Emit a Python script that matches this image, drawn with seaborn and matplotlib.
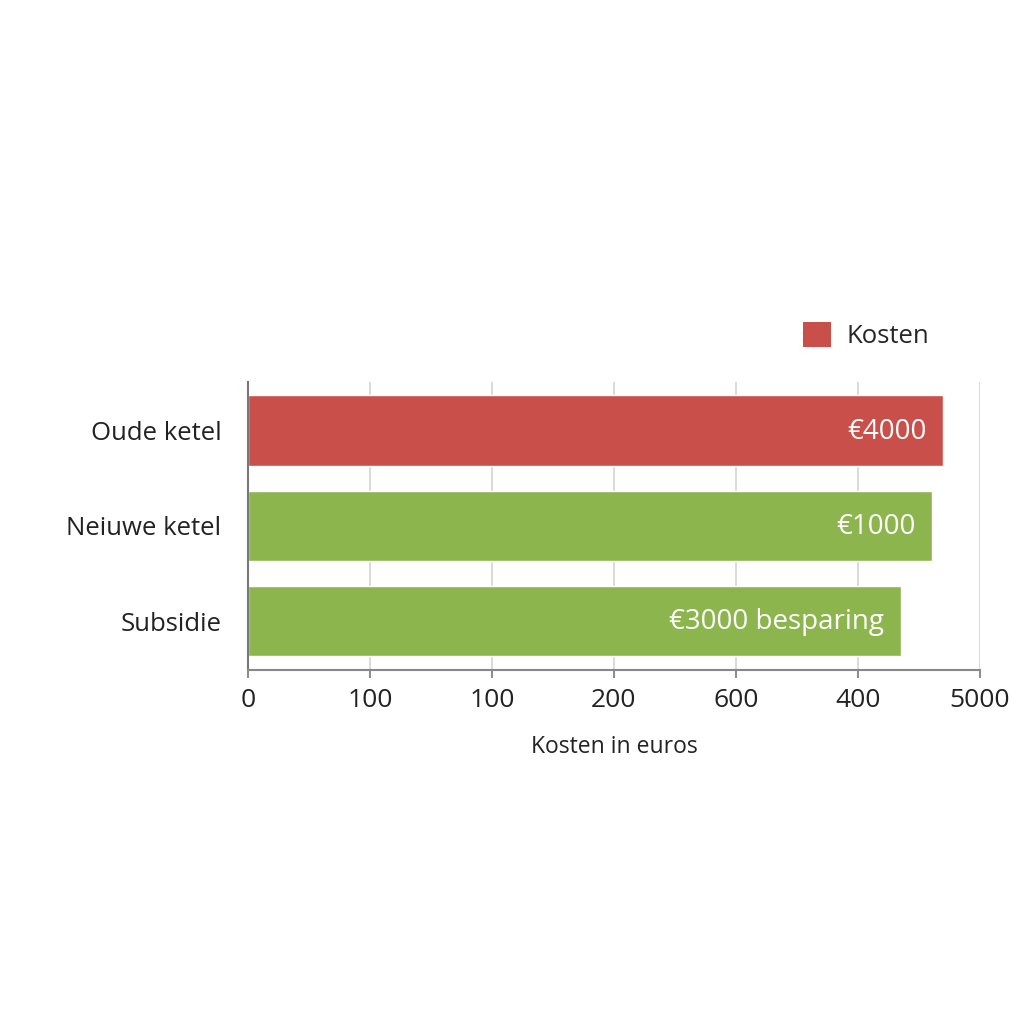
import matplotlib
matplotlib.use("Agg")
import matplotlib.pyplot as plt
import seaborn as sns
import pandas as pd
from matplotlib.patches import Patch

categories = ["Oude ketel", "Neiuwe ketel", "Subsidie"]
values = [5700, 5610, 5350]
bar_labels = ["€4000", "€1000", "€3000 besparing"]
colors = ["#C9504A", "#8DB54E", "#8DB54E"]
tick_positions = [0, 1000, 2000, 3000, 4000, 5000, 6000]
tick_labels = ["0", "100", "100", "200", "600", "400", "5000"]
legend_label = "Kosten"
xlabel = "Kosten in euros"

sns.set_theme(style="white")
plt.rcParams["font.family"] = ["Open Sans", "DejaVu Sans"]

df = pd.DataFrame({"cat": categories, "val": values})

fig = plt.figure(figsize=(10.24, 10.24), dpi=100)
ax = fig.add_axes([0.242, 0.346, 0.715, 0.281])

sns.barplot(data=df, x="val", y="cat", hue="cat", palette=colors,
            legend=False, width=0.74, ax=ax, saturation=1)

ax.set_xlim(0, 6000)
ax.set_ylim(2.51, -0.51)
ax.set_xticks(tick_positions)
ax.set_xticklabels(tick_labels, fontsize=19, color="#222222")
ax.tick_params(axis="x", which="both", bottom=True, length=6, width=1.2,
               color="#777777", pad=7)
ax.tick_params(axis="y", labelsize=18.5, labelcolor="#222222", length=0, pad=19)
ax.set_ylabel("")
ax.set_xlabel(xlabel, fontsize=16.5, color="#222222", labelpad=16)

ax.grid(axis="x", color="#D3D3D3", linewidth=1.2)
ax.set_axisbelow(True)
for s in ["top", "right"]:
    ax.spines[s].set_visible(False)
ax.spines["left"].set_color("#777777")
ax.spines["left"].set_linewidth(1.5)
ax.spines["bottom"].set_color("#888888")
ax.spines["bottom"].set_linewidth(1.5)

for i, (v, lab) in enumerate(zip(values, bar_labels)):
    ax.annotate(lab, xy=(v, i), xytext=(-12, -1), textcoords="offset points",
                ha="right", va="center", color="white", fontsize=20,
                fontweight="medium")

handles = [Patch(facecolor=colors[0], edgecolor="none", label=legend_label)]
fig.legend(handles=handles, loc="center right", bbox_to_anchor=(0.93, 0.672),
           frameon=False, fontsize=18.5, handlelength=1.1, handleheight=1.1,
           handletextpad=0.6)

fig.savefig("out.png", dpi=100, facecolor="white")
